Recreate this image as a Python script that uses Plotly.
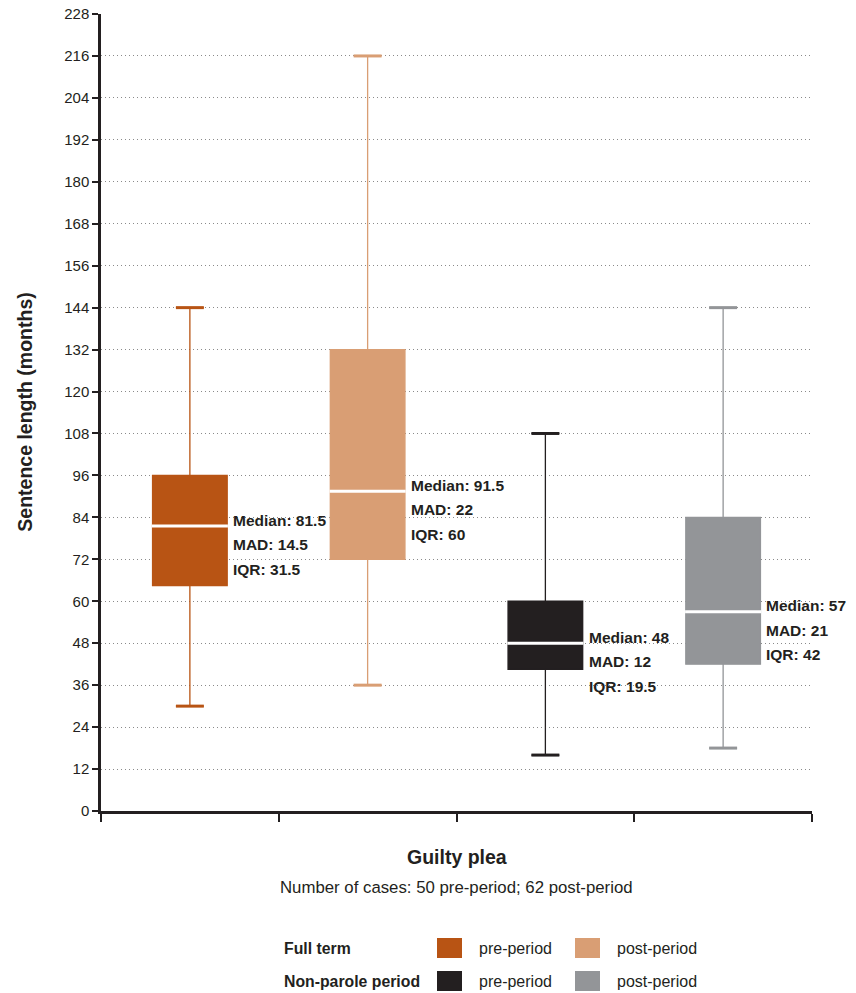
import plotly.graph_objects as go

groups = ["Full term pre-period", "Full term post-period", "Non-parole pre-period", "Non-parole post-period"]
q1 = [64.5, 72, 40.5, 42]
median = [81.5, 91.5, 48, 57]
q3 = [96, 132, 60, 84]
lower = [30, 36, 16, 18]
upper = [144, 216, 108, 144]
mad = [14.5, 22, 12, 21]
iqr = [31.5, 60, 19.5, 42]
colors = ["#B85414", "#D99E74", "#231F20", "#939598"]
y_ticks = list(range(0, 229, 12))

BOX_W = 0.42
CAP_W = 0.157
SANS = "Liberation Sans, Arial, sans-serif"
INK = "#231F20"

fig = go.Figure()
for i, g in enumerate(groups):
    fig.add_trace(go.Box(
        x=[i], q1=[q1[i]], median=[median[i]], q3=[q3[i]],
        lowerfence=[lower[i]], upperfence=[upper[i]],
        width=BOX_W, whiskerwidth=CAP_W / BOX_W,
        fillcolor=colors[i], line=dict(color=colors[i], width=1.3),
        boxpoints=False, name=g, showlegend=False, hoverinfo="skip",
    ))
    for v in (lower[i], upper[i]):
        fig.add_trace(go.Scatter(
            x=[i - CAP_W / 2, i + CAP_W / 2], y=[v, v], mode="lines",
            line=dict(color=colors[i], width=3), showlegend=False, hoverinfo="skip",
        ))
    fig.add_trace(go.Scatter(
        x=[i - BOX_W / 2 - 0.004, i + BOX_W / 2 + 0.004], y=[median[i], median[i]], mode="lines",
        line=dict(color="white", width=3), showlegend=False, hoverinfo="skip",
    ))
    lines = [f"Median: {median[i]:g}", f"MAD: {mad[i]:g}", f"IQR: {iqr[i]:g}"]
    for k, t in enumerate(lines):
        fig.add_annotation(
            x=i + BOX_W / 2, y=median[i], xref="x", yref="y",
            xanchor="left", yanchor="middle", xshift=4, yshift=6 - 24.5 * k,
            text=t, showarrow=False,
            font=dict(family=SANS, size=15.5, color=INK, weight="bold"),
        )

fig.add_annotation(x=-0.108, y=0.5, xref="paper", yref="paper", textangle=-90,
                   xanchor="center", yanchor="middle",
                   text="<b>Sentence length (months)</b>", showarrow=False,
                   font=dict(family=SANS, size=19.5, color=INK))
fig.add_annotation(x=0.5, y=-0.0577, xref="paper", yref="paper", yanchor="middle",
                   text="<b>Guilty plea</b>", showarrow=False,
                   font=dict(family=SANS, size=19.5, color=INK))
fig.add_annotation(x=0.5, y=-0.0954, xref="paper", yref="paper", yanchor="middle",
                   text="Number of cases: 50 pre-period; 62 post-period", showarrow=False,
                   font=dict(family=SANS, size=16.8, color=INK))

L, PW, B, PH = 101, 711, 811, 797
def px(x):
    return (x - L) / PW
def py(y):
    return (B - y) / PH

rows = [("Full term", 0, 948), ("Non-parole period", 2, 981)]
for label, ci, yc in rows:
    fig.add_annotation(x=px(282), y=py(yc), xref="paper", yref="paper", xanchor="left",
                       yanchor="middle", text=f"<b>{label}</b>", showarrow=False,
                       font=dict(family=SANS, size=15.8, color=INK))
    for k, (sx, tx, txt) in enumerate([(437, 477, "pre-period"), (575, 615, "post-period")]):
        fig.add_shape(type="rect", xref="paper", yref="paper",
                      x0=px(sx), x1=px(sx + 25), y0=py(yc - 10), y1=py(yc + 10),
                      fillcolor=colors[ci + k], line=dict(width=0))
        fig.add_annotation(x=px(tx), y=py(yc), xref="paper", yref="paper", xanchor="left",
                           yanchor="middle", text=txt, showarrow=False,
                           font=dict(family=SANS, size=16, color=INK))

fig.update_layout(
    width=856, height=993, margin=dict(l=101, r=44, t=14, b=182),
    paper_bgcolor="white", plot_bgcolor="white", boxmode="overlay",
    showlegend=False,
)
fig.update_yaxes(
    range=[0, 228], tickvals=y_ticks, ticktext=[str(t) for t in y_ticks],
    showgrid=True, gridcolor="#8a8a8a", griddash="1px,3px", gridwidth=1,
    showline=True, linecolor=INK, linewidth=2.5, ticks="outside", ticklen=6,
    tickwidth=2, tickcolor=INK, zeroline=False, automargin=False,
    tickfont=dict(family=SANS, size=15, color=INK),
)
fig.update_xaxes(
    range=[-0.5, 3.5], tickvals=[-0.5, 0.5, 1.5, 2.5, 3.5], ticktext=[""] * 5,
    showgrid=False, showline=True, linecolor=INK, linewidth=2.5, ticks="outside",
    ticklen=8, tickwidth=1.5, tickcolor=INK, zeroline=False, automargin=False,
)

fig.write_html("out.html")
